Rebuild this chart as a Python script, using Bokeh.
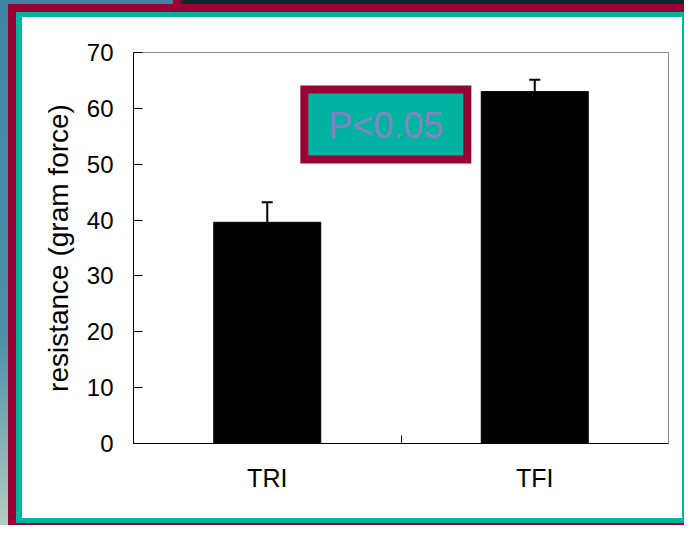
from bokeh.plotting import figure
from bokeh.models import (ColumnDataSource, Range1d, FixedTicker, Whisker, TeeHead,
                          BoxAnnotation, Label)
from bokeh.embed import file_html
from bokeh.resources import INLINE

# ---- data ----
categories = ["TRI", "TFI"]
resistance = [39.6, 63.0]
error_upper = [3.6, 2.1]
y_ticks = [0, 10, 20, 30, 40, 50, 60, 70]
y_label = "resistance (gram force)"
note_text = "P<0.05"

# ---- styles ----
MAROON = "#990033"
TEAL = "#00b3a0"
PURPLE = "#8a80c6"
DARK = "#0b2a2b"
FONT = "Liberation Sans"

W, H = 684, 525

x_pos = [i + 0.5 for i in range(len(categories))]
tops = [v + e for v, e in zip(resistance, error_upper)]
src = ColumnDataSource(dict(x=x_pos, value=resistance, upper=tops, cat=categories))

p = figure(width=W, height=H, output_backend="svg", toolbar_location=None,
           x_range=Range1d(0, len(categories)), y_range=Range1d(0, 70),
           min_border_left=133, min_border_right=16, min_border_top=52,
           min_border_bottom=82)
p.border_fill_color = None
p.background_fill_color = "white"
p.outline_line_color = "#8c8c8c"
p.outline_line_width = 1
p.grid.visible = False


def solid(c):
    return f"linear-gradient({c}, {c})"


# decorative slide frame (background layers, first listed is on top)
layers = [
    (solid("white"), (22, 17), (660, 501)),
    (solid(TEAL), (16, 12), (668, 511)),
    (solid(MAROON), (8, 4), (676, 521)),
    (solid(DARK), (181, 0), (503, 4)),
    (solid(MAROON), (173, 0), (8, 4)),
    ("linear-gradient(to bottom, #3f84a2 0%, #4f8fa9 65%, #b3cdbf 100%)", (0, 0), (W, H)),
]
p.styles = {
    "background-color": "white",
    "background-image": ", ".join(l[0] for l in layers),
    "background-position": ", ".join(f"{l[1][0]}px {l[1][1]}px" for l in layers),
    "background-size": ", ".join(f"{l[2][0]}px {l[2][1]}px" for l in layers),
    "background-repeat": "no-repeat",
}

p.vbar(x="x", top="value", bottom=0, width=0.4, source=src,
       fill_color="black", line_color="black")

whisk = Whisker(source=src, base="x", lower="value", upper="upper",
                line_color="black", line_width=2, lower_head=None,
                upper_head=TeeHead(size=11, line_color="black", line_width=2))
p.add_layout(whisk)

# P<0.05 box
box = BoxAnnotation(left=0.6387, right=1.248, bottom=50.84, top=63.38,
                    fill_color=TEAL, fill_alpha=1.0,
                    line_color=MAROON, line_width=8, line_alpha=1.0,
                    line_join="miter")
p.add_layout(box)
lab = Label(x=0.943, y=56.9, text=note_text, text_align="center",
            text_baseline="middle", text_font=FONT, text_font_size="36px",
            text_color=PURPLE)
p.add_layout(lab)

# y axis
ya = p.yaxis[0]
ya.ticker = FixedTicker(ticks=y_ticks)
ya.axis_label = y_label
ya.axis_label_text_font = FONT
ya.axis_label_text_font_size = "28px"
ya.axis_label_text_font_style = "normal"
ya.axis_label_text_color = "black"
ya.axis_label_standoff = 10
ya.major_label_text_font = FONT
ya.major_label_text_font_size = "24px"
ya.major_label_text_color = "black"
ya.major_label_standoff = 20
ya.major_tick_in = 9
ya.major_tick_out = 0
ya.minor_tick_line_color = None
ya.axis_line_color = "black"
ya.major_tick_line_color = "black"

# x axis
xa = p.xaxis[0]
xa.ticker = FixedTicker(ticks=x_pos, minor_ticks=[1.0])
xa.major_label_overrides = {xv: c for xv, c in zip(x_pos, categories)}
xa.major_label_text_font = FONT
xa.major_label_text_font_size = "25px"
xa.major_label_text_color = "black"
xa.major_label_standoff = 20
xa.major_tick_in = 0
xa.major_tick_out = 0
xa.minor_tick_in = 8
xa.minor_tick_out = 0
xa.minor_tick_line_color = "black"
xa.axis_line_color = "black"

open("out.html", "w").write(file_html(p, INLINE))
